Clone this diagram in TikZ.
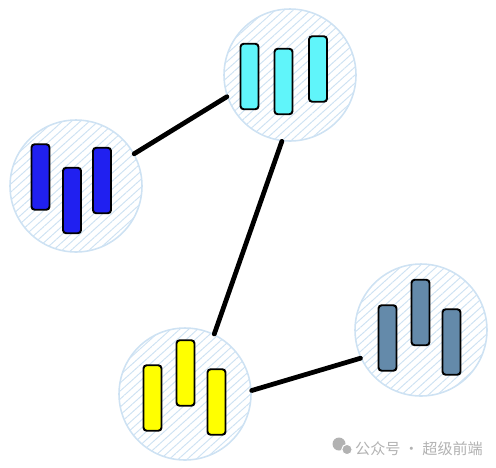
\documentclass[tikz,border=0pt]{standalone}
\usepackage{fontspec}
\newfontfamily\cjk{Noto Sans CJK SC}
\usepackage{tikz}
\usetikzlibrary{patterns.meta}

\definecolor{hatchblue}{RGB}{206,226,243}
\definecolor{barblue}{RGB}{32,32,240}
\definecolor{barcyan}{RGB}{96,245,250}
\definecolor{baryellow}{RGB}{255,255,0}
\definecolor{barslate}{RGB}{100,138,170}
\definecolor{markgray}{RGB}{178,178,178}

\begin{document}
\begin{tikzpicture}[x=0.02cm,y=-0.02cm,
  group/.style={circle,draw=hatchblue,line width=0.9pt,minimum size=2.64cm,inner sep=0pt,
    pattern={Lines[angle=42,distance=3.4pt,line width=0.55pt]},pattern color=hatchblue},
  bar/.style={draw=black,line width=1.1pt,rounded corners=1.8pt,minimum width=0.36cm,
    minimum height=1.31cm,inner sep=0pt},
  link/.style={line width=2.7pt,line cap=round}]
\useasboundingbox (0,0) rectangle (496,467);

\node[group] (1) at (76,186) {};
\node[group] (2) at (290,75) {};
\node[group] (3) at (185,394) {};
\node[group] (4) at (421,330) {};

\node[bar,fill=barblue] (11) at (40.5,177) {};
\node[bar,fill=barblue] (12) at (72,200.5) {};
\node[bar,fill=barblue] (13) at (102,180.5) {};

\node[bar,fill=barcyan] (21) at (249.5,76.5) {};
\node[bar,fill=barcyan] (22) at (283.5,81.5) {};
\node[bar,fill=barcyan] (23) at (318,69) {};

\node[bar,fill=baryellow] (31) at (152.5,398) {};
\node[bar,fill=baryellow] (32) at (185.5,373) {};
\node[bar,fill=baryellow] (33) at (216.5,402) {};

\node[bar,fill=barslate] (41) at (387.5,338) {};
\node[bar,fill=barslate] (42) at (420.5,312.5) {};
\node[bar,fill=barslate] (43) at (451.5,342) {};

\draw[link] (1.29) -- (2.199);
\draw[link] (2.-97) -- (3.64);
\draw[link] (3.3) -- (4.205);

% watermark
\fill[markgray] (339,444) circle (6.5);
\fill[markgray,draw=white,line width=0.6pt] (347,449.5) circle (5.2);
\node[text=markgray,font=\cjk\fontsize{8.6}{10}\selectfont,inner sep=0pt] (mark) at (419,448.5) {公众号 · 超级前端};
\end{tikzpicture}
\end{document}
